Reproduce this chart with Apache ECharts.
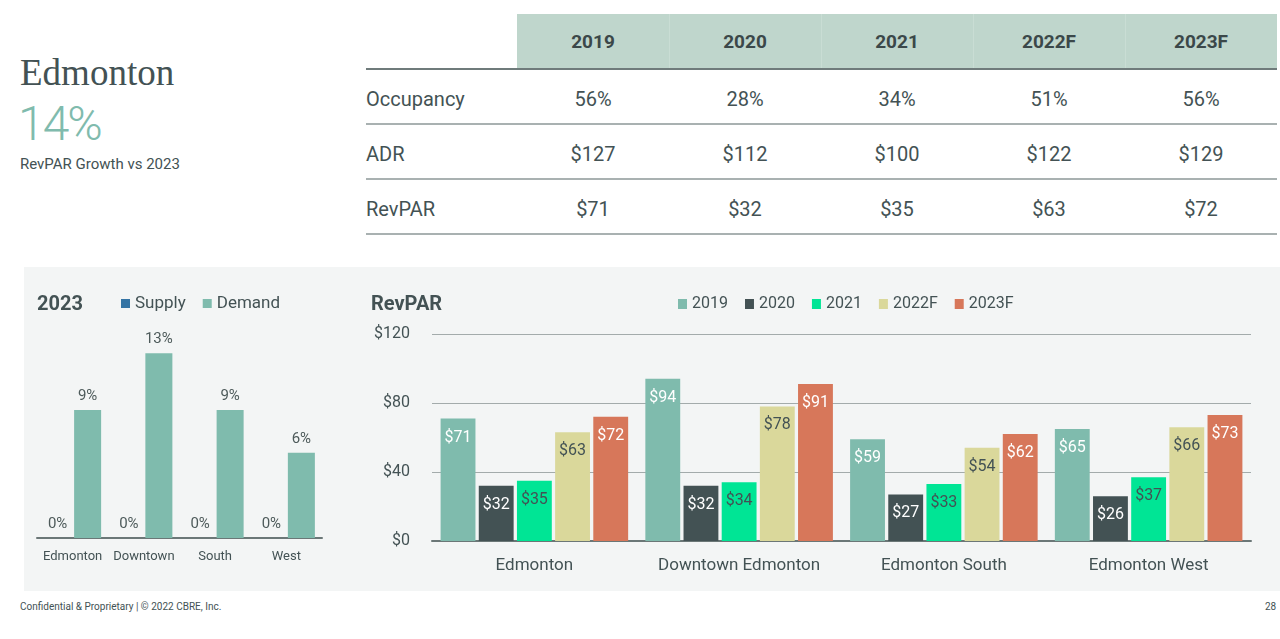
<!DOCTYPE html>
<html>
<head>
<meta charset="utf-8">
<script src="https://cdn.jsdelivr.net/npm/echarts@6/dist/echarts.min.js"></script>
<style>
  body { margin: 0; width: 1280px; height: 639px; position: relative; overflow: hidden; background: #fff; font-family: Roboto, sans-serif; color: #435254; }
  #panel { position: absolute; left: 24px; top: 267px; width: 1256px; height: 324px; background: #f3f5f5; }
  #chart { position: absolute; left: 0; top: 0; width: 1280px; height: 639px; }
  .t { position: absolute; white-space: nowrap; }
  #city { left: 20px; top: 54px; font: 37px/1 "Liberation Serif", serif; color: #435254; }
  #growth { left: 18px; top: 100px; font: 300 48px/1 Roboto, sans-serif; color: #80bbad; letter-spacing: -2px; }
  #sub { left: 20px; top: 156px; font: 15px/16px Roboto, sans-serif; }
  #foot { left: 20px; top: 601px; font: 10px/12px Roboto, sans-serif; }
  #page { left: 1265px; top: 601px; font: 10px/12px Roboto, sans-serif; }
  .cell { position: absolute; text-align: center; font-size: 20px; }
  .hline { position: absolute; left: 366px; width: 911px; }
</style>
</head>
<body>
<div id="panel"></div>
<div class="t" id="city">Edmonton</div>
<div class="t" id="growth">14%</div>
<div class="t" id="sub">RevPAR Growth vs 2023</div>
<div id="table"></div>
<div class="t" id="foot">Confidential &amp; Proprietary | © 2022 CBRE, Inc.</div>
<div class="t" id="page">28</div>
<div id="chart"></div>
<script>
// table
const years = ["2019", "2020", "2021", "2022F", "2023F"];
const rowNames = ["Occupancy", "ADR", "RevPAR"];
const occupancy = ["56%", "28%", "34%", "51%", "56%"];
const adr = ["$127", "$112", "$100", "$122", "$129"];
const revparRow = ["$71", "$32", "$35", "$63", "$72"];

// 2023 supply / demand growth
const sdCats = ["Edmonton", "Downtown", "South", "West"];
const supply = [0, 0, 0, 0];
const demand = [9, 13, 9, 6];

// RevPAR by submarket
const revCats = ["Edmonton", "Downtown Edmonton", "Edmonton South", "Edmonton West"];
const rev2019 = [71, 94, 59, 65];
const rev2020 = [32, 32, 27, 26];
const rev2021 = [35, 34, 33, 37];
const rev2022F = [63, 78, 54, 66];
const rev2023F = [72, 91, 62, 73];

const dark = "#435254";

// build table
const tbl = document.getElementById("table");
const colX = 517, colW = 152, rowTop = 70, rowH = 55;
const add = (html) => tbl.insertAdjacentHTML("beforeend", html);
add(`<div style="position:absolute;left:${colX}px;top:14px;width:${colW * 5}px;height:54px;background:#bfd6cc"></div>`);
years.forEach((y, i) => {
  if (i > 0) add(`<div style="position:absolute;left:${colX + i * colW}px;top:14px;width:1px;height:54px;background:#c9ddd4"></div>`);
  add(`<div class="cell" style="left:${colX + i * colW}px;top:15px;width:${colW}px;line-height:54px;font-weight:700;font-size:19px;color:#3b4849">${y}</div>`);
});
add(`<div class="hline" style="top:68px;height:2px;background:#6f7b7b"></div>`);
[occupancy, adr, revparRow].forEach((row, r) => {
  const top = rowTop + r * rowH;
  add(`<div class="cell" style="left:366px;top:${top + 3}px;width:151px;line-height:${rowH - 2}px;text-align:left">${rowNames[r]}</div>`);
  row.forEach((v, i) => {
    add(`<div class="cell" style="left:${colX + i * colW}px;top:${top + 3}px;width:${colW}px;line-height:${rowH - 2}px">${v}</div>`);
  });
  add(`<div class="hline" style="top:${top + rowH - 2}px;height:1.5px;background:#a9b1b1"></div>`);
});

const chart = echarts.init(document.getElementById("chart"));

const revColors = ["#7fbbad", "#435254", "#00e595", "#dad89b", "#d7775a"];
const revLabelColors = ["#fff", "#fff", dark, dark, "#fff"];
const revData = [rev2019, rev2020, rev2021, rev2022F, rev2023F];

const option = {
  textStyle: { fontFamily: "Roboto" },
  animation: false,
  title: [
    { text: "2023", left: 32, top: 290, textStyle: { fontSize: 20, fontWeight: "bold", color: dark } },
    { text: "RevPAR", left: 366, top: 290, textStyle: { fontSize: 20, fontWeight: "bold", color: dark } },
  ],
  legend: [
    {
      data: ["Supply", "Demand"],
      left: 116, top: 290,
      itemWidth: 9, itemHeight: 9, itemGap: 17,
      icon: "rect",
      textStyle: { fontSize: 17, color: dark },
    },
    {
      data: years,
      left: 673, top: 291,
      itemWidth: 9, itemHeight: 10, itemGap: 17,
      icon: "rect",
      textStyle: { fontSize: 16, color: dark },
    },
  ],
  grid: [
    { left: 37, width: 285, top: 339, bottom: 101 },
    { left: 432, right: 29, top: 334, bottom: 98 },
  ],
  xAxis: [
    {
      gridIndex: 0, type: "category", data: sdCats,
      axisLine: { lineStyle: { color: "#6b7777", width: 2 } },
      axisTick: { show: false },
      axisLabel: { fontSize: 13, color: dark, margin: 12, interval: 0 },
    },
    {
      gridIndex: 1, type: "category", data: revCats,
      axisLine: { lineStyle: { color: "#6b7777", width: 2 } },
      axisTick: { show: false },
      axisLabel: { fontSize: 17, color: dark, margin: 16, interval: 0 },
    },
  ],
  yAxis: [
    { gridIndex: 0, type: "value", min: 0, max: 14, show: false },
    {
      gridIndex: 1, type: "value", min: 0, max: 120, interval: 40,
      axisLine: { show: false }, axisTick: { show: false },
      axisLabel: { fontSize: 16, color: dark, margin: 22, formatter: "${value}" },
      splitLine: { lineStyle: { color: "#a3abab", width: 1.2 } },
    },
  ],
  series: [
    {
      name: "Supply", type: "bar", xAxisIndex: 0, yAxisIndex: 0, data: supply,
      itemStyle: { color: "#3474a4" },
      barGap: "11%", barCategoryGap: "20%",
      label: { show: true, position: "top", distance: 6, fontSize: 15, color: "#4d5a5a", formatter: "{c}%" },
    },
    {
      name: "Demand", type: "bar", xAxisIndex: 0, yAxisIndex: 0, data: demand,
      itemStyle: { color: "#7fbbad" },
      barGap: "11%", barCategoryGap: "20%",
      label: { show: true, position: "top", distance: 6, fontSize: 15, color: "#4d5a5a", formatter: "{c}%" },
    },
    ...years.map((y, i) => ({
      name: y, type: "bar", xAxisIndex: 1, yAxisIndex: 1, data: revData[i],
      itemStyle: { color: revColors[i] },
      barGap: "9.5%", barCategoryGap: "8.4%",
      label: { show: true, position: "insideTop", distance: 11, fontSize: 16, color: revLabelColors[i], formatter: "${c}" },
    })),
  ],
};

chart.setOption(option);
</script>
</body>
</html>
